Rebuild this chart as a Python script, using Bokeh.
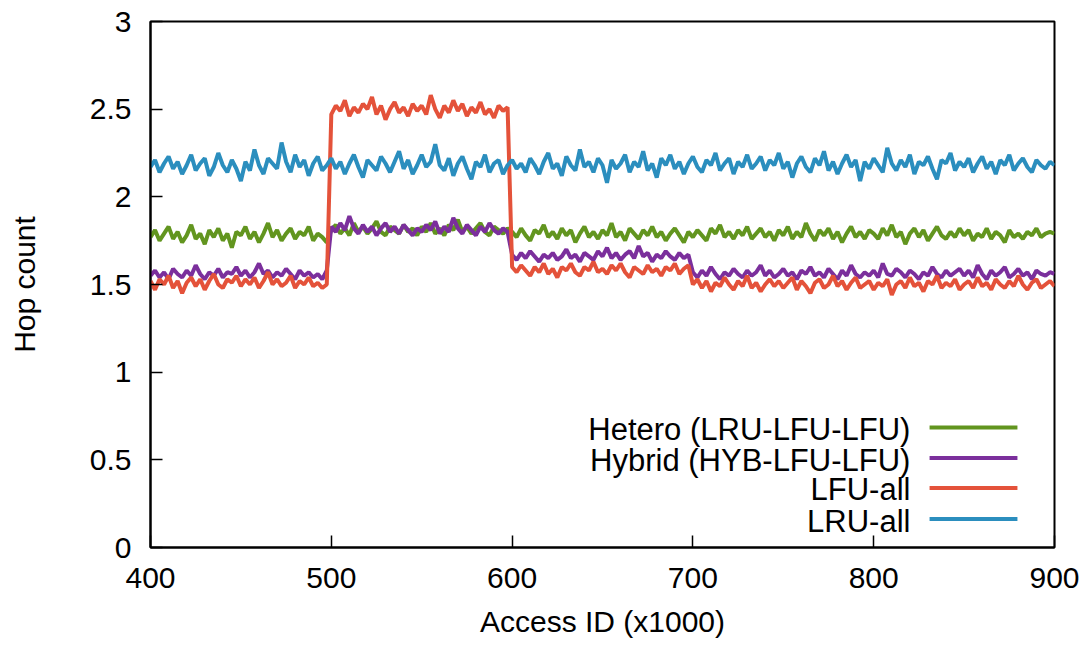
from bokeh.plotting import figure
from bokeh.models import Range1d, FixedTicker
from bokeh.core.properties import value
from bokeh.embed import file_html
from bokeh.resources import INLINE

# Access ID (x1000): one sample every 2.5
access_id = [400 + 2.5 * i for i in range(201)]

lru_all = [
    2.17, 2.21, 2.14, 2.19, 2.23, 2.16, 2.20, 2.13, 2.18, 2.24, 2.15, 2.19, 2.22, 2.12, 2.17, 2.25, 2.18, 2.14, 2.21, 2.16,
    2.09, 2.20, 2.15, 2.27, 2.18, 2.13, 2.22, 2.19, 2.16, 2.31, 2.20, 2.14, 2.24, 2.17, 2.21, 2.12, 2.19, 2.23, 2.15, 2.18,
    2.22, 2.16, 2.20, 2.13, 2.19, 2.24, 2.17, 2.11, 2.21, 2.18, 2.15, 2.23, 2.19, 2.14, 2.20, 2.26, 2.16, 2.21, 2.13, 2.18,
    2.24, 2.17, 2.20, 2.30, 2.18, 2.15, 2.22, 2.12, 2.19, 2.23, 2.16, 2.10, 2.20, 2.17, 2.24, 2.14, 2.19, 2.21, 2.13, 2.18,
    2.21, 2.16, 2.19, 2.14, 2.22, 2.18, 2.13, 2.20, 2.25, 2.16, 2.19, 2.12, 2.23, 2.18, 2.15, 2.27, 2.17, 2.20, 2.14, 2.22,
    2.18, 2.08, 2.21, 2.16, 2.19, 2.24, 2.14, 2.20, 2.17, 2.26, 2.15, 2.19, 2.11, 2.22, 2.18, 2.24, 2.16, 2.20, 2.13, 2.19,
    2.23, 2.17, 2.14, 2.21, 2.18, 2.25, 2.15, 2.19, 2.22, 2.13, 2.20, 2.17, 2.24, 2.16, 2.19, 2.23, 2.15, 2.21, 2.18, 2.25,
    2.16, 2.20, 2.11, 2.19, 2.23, 2.17, 2.14, 2.22, 2.18, 2.26, 2.15, 2.20, 2.13, 2.19, 2.24, 2.17, 2.21, 2.09, 2.20, 2.16,
    2.22, 2.18, 2.14, 2.28, 2.19, 2.15, 2.21, 2.17, 2.24, 2.13, 2.20, 2.18, 2.23, 2.16, 2.10, 2.21, 2.19, 2.25, 2.15, 2.20,
    2.17, 2.22, 2.14, 2.19, 2.23, 2.16, 2.20, 2.13, 2.21, 2.18, 2.24, 2.15, 2.19, 2.22, 2.17, 2.14, 2.21, 2.18, 2.16, 2.20,
    2.18,
]

hetero = [
    1.77, 1.81, 1.75, 1.79, 1.83, 1.76, 1.80, 1.74, 1.78, 1.84, 1.76, 1.79, 1.73, 1.81, 1.77, 1.82, 1.75, 1.79, 1.71, 1.80,
    1.78, 1.83, 1.76, 1.80, 1.74, 1.79, 1.85, 1.77, 1.81, 1.75, 1.79, 1.82, 1.76, 1.80, 1.78, 1.83, 1.75, 1.79, 1.77, 1.74,
    1.81, 1.84, 1.79, 1.82, 1.78, 1.85, 1.80, 1.83, 1.79, 1.82, 1.86, 1.80, 1.78, 1.83, 1.81, 1.79, 1.84, 1.80, 1.82, 1.78,
    1.83, 1.80, 1.85, 1.79, 1.82, 1.78, 1.84, 1.81, 1.87, 1.80, 1.83, 1.79, 1.82, 1.85, 1.80, 1.78, 1.83, 1.81, 1.79, 1.82,
    1.80, 1.77, 1.82, 1.78, 1.75, 1.81, 1.79, 1.84, 1.77, 1.80, 1.76, 1.82, 1.78, 1.81, 1.74, 1.79, 1.83, 1.77, 1.80, 1.76,
    1.81, 1.78, 1.85, 1.77, 1.80, 1.75, 1.82, 1.79, 1.76, 1.81, 1.78, 1.83, 1.77, 1.80, 1.75, 1.79, 1.82, 1.78, 1.74, 1.80,
    1.77, 1.81, 1.78, 1.75, 1.82, 1.79, 1.84, 1.77, 1.80, 1.76, 1.81, 1.78, 1.83, 1.76, 1.79, 1.82, 1.77, 1.80, 1.75, 1.81,
    1.78, 1.83, 1.76, 1.80, 1.77, 1.85, 1.79, 1.75, 1.81, 1.78, 1.82, 1.76, 1.80, 1.74, 1.79, 1.83, 1.77, 1.80, 1.76, 1.81,
    1.79, 1.76, 1.82, 1.78, 1.84, 1.77, 1.80, 1.73, 1.79, 1.82, 1.77, 1.81, 1.75, 1.79, 1.83, 1.78, 1.76, 1.80, 1.77, 1.82,
    1.78, 1.81, 1.75, 1.79, 1.77, 1.82, 1.76, 1.80, 1.78, 1.74, 1.81, 1.77, 1.79, 1.76, 1.80, 1.78, 1.82, 1.77, 1.79, 1.80,
    1.79,
]

hybrid = [
    1.55, 1.58, 1.54, 1.57, 1.53, 1.59, 1.56, 1.54, 1.58, 1.55, 1.61, 1.56, 1.53, 1.57, 1.55, 1.59, 1.54, 1.57, 1.56, 1.60,
    1.55, 1.58, 1.54, 1.57, 1.62, 1.56, 1.58, 1.54, 1.57, 1.55, 1.59, 1.56, 1.53, 1.58, 1.55, 1.57, 1.54, 1.56, 1.53, 1.58,
    1.83, 1.80, 1.85, 1.81, 1.89, 1.82, 1.79, 1.84, 1.80, 1.83, 1.78, 1.82, 1.85, 1.80, 1.83, 1.79, 1.84, 1.81, 1.78, 1.82,
    1.80, 1.84, 1.81, 1.86, 1.79, 1.83, 1.80, 1.88, 1.82, 1.79, 1.84, 1.81, 1.78, 1.83, 1.80, 1.85, 1.81, 1.79, 1.82, 1.80,
    1.67, 1.64, 1.68, 1.65, 1.69, 1.66, 1.63, 1.67, 1.65, 1.68, 1.64, 1.66, 1.70, 1.65, 1.67, 1.63, 1.68, 1.66, 1.64, 1.69,
    1.66, 1.71, 1.65, 1.68, 1.64, 1.67, 1.69, 1.65, 1.72, 1.66, 1.68, 1.63, 1.67, 1.65, 1.69, 1.66, 1.64, 1.68, 1.65, 1.67,
    1.57, 1.54, 1.58, 1.55, 1.60, 1.56, 1.53, 1.57, 1.55, 1.59, 1.56, 1.54, 1.58, 1.55, 1.57, 1.61, 1.55, 1.58, 1.54, 1.56,
    1.59, 1.55, 1.57, 1.53, 1.58, 1.56, 1.60, 1.55, 1.57, 1.54, 1.59, 1.56, 1.53, 1.58, 1.55, 1.61, 1.56, 1.54, 1.57, 1.55,
    1.58, 1.54, 1.62, 1.56, 1.55, 1.59, 1.57, 1.54, 1.58, 1.56, 1.53, 1.57, 1.55, 1.60, 1.56, 1.54, 1.58, 1.55, 1.57, 1.59,
    1.55, 1.58, 1.54, 1.61, 1.56, 1.53, 1.58, 1.55, 1.57, 1.60, 1.54, 1.56, 1.59, 1.55, 1.57, 1.53, 1.58, 1.56, 1.55, 1.57,
    1.56,
]

lfu_all = [
    1.52, 1.47, 1.53, 1.50, 1.55, 1.48, 1.52, 1.45, 1.51, 1.54, 1.49, 1.53, 1.47, 1.52, 1.56, 1.50, 1.48, 1.53, 1.51, 1.55,
    1.49, 1.53, 1.50, 1.54, 1.48, 1.52, 1.57, 1.50, 1.53, 1.49, 1.51, 1.55, 1.48, 1.52, 1.50, 1.54, 1.49, 1.51, 1.48, 1.50,
    2.47, 2.52, 2.49, 2.55, 2.46, 2.51, 2.48, 2.53, 2.50, 2.57, 2.47, 2.52, 2.44, 2.50, 2.54, 2.48, 2.51, 2.46, 2.53, 2.49,
    2.52, 2.47, 2.58, 2.50, 2.45, 2.52, 2.48, 2.55, 2.49, 2.53, 2.46, 2.51, 2.48, 2.54, 2.47, 2.50, 2.45, 2.52, 2.49, 2.51,
    1.60, 1.57, 1.61, 1.58, 1.55, 1.60, 1.57, 1.62, 1.56, 1.59, 1.54, 1.60, 1.58, 1.62, 1.57, 1.55, 1.60, 1.58, 1.63, 1.57,
    1.59, 1.56, 1.61, 1.58, 1.62, 1.57, 1.54, 1.60, 1.58, 1.56, 1.61, 1.57, 1.59, 1.55, 1.60, 1.58, 1.62, 1.56, 1.59, 1.61,
    1.50, 1.53, 1.48, 1.52, 1.46, 1.51, 1.49, 1.54, 1.50, 1.47, 1.52, 1.49, 1.55, 1.48, 1.51, 1.46, 1.50, 1.53, 1.49, 1.52,
    1.48, 1.51, 1.54, 1.47, 1.52, 1.49, 1.45, 1.51, 1.53, 1.48, 1.50, 1.55, 1.49, 1.52, 1.47, 1.51, 1.54, 1.48, 1.50, 1.52,
    1.47, 1.51, 1.49, 1.53, 1.44, 1.50, 1.52, 1.48, 1.54, 1.49, 1.51, 1.46, 1.52, 1.50, 1.55, 1.48, 1.51, 1.49, 1.53, 1.47,
    1.50, 1.52, 1.48, 1.54, 1.49, 1.51, 1.47, 1.53, 1.50, 1.48, 1.52, 1.49, 1.55, 1.50, 1.47, 1.51, 1.53, 1.48, 1.50, 1.52,
    1.49,
]

series_names = ["Hetero (LRU-LFU-LFU)", "Hybrid (HYB-LFU-LFU)", "LFU-all", "LRU-all"]
series_values = [hetero, hybrid, lfu_all, lru_all]
series_colors = ["#62951f", "#7b2f9c", "#e4523a", "#2b8ebe"]

x_ticks = [400, 500, 600, 700, 800, 900]
y_ticks = [0, 0.5, 1, 1.5, 2, 2.5, 3]
y_tick_labels = ["0", "0.5", "1", "1.5", "2", "2.5", "3"]

FONT = "Liberation Sans"
FS = "30px"

p = figure(width=1088, height=640, output_backend="svg", toolbar_location=None,
           x_range=Range1d(400, 900), y_range=Range1d(0, 3),
           min_border_left=150, min_border_right=34, min_border_top=21, min_border_bottom=89)
p.background_fill_color = "white"
p.border_fill_color = "white"
p.grid.visible = False
p.outline_line_color = "black"
p.outline_line_width = 2
p.outline_line_alpha = 1

for vals, col in zip(series_values, series_colors):
    p.line(access_id, vals, line_color=col, line_width=4)

# legend (label on the left, line sample on the right)
leg_x_text = 820.3
leg_x0, leg_x1 = 830.9, 879.5
leg_y = [0.685, 0.511, 0.340, 0.162]
leg_text_y = [v - 0.012 for v in leg_y]
p.text(x=[leg_x_text] * 4, y=leg_text_y, text=series_names, text_font=value(FONT),
       text_font_size="31px", text_align="right", text_baseline="middle", text_color="black")
p.segment(x0=[leg_x0] * 4, x1=[leg_x1] * 4, y0=leg_y, y1=leg_y,
          line_color=series_colors, line_width=4)

for ax in (p.xaxis[0], p.yaxis[0]):
    ax.axis_line_width = 2
    ax.axis_line_color = "black"
    ax.major_tick_in = 12
    ax.major_tick_out = 0
    ax.major_tick_line_width = 1.5
    ax.major_tick_line_color = "black"
    ax.minor_tick_line_color = None
    ax.major_label_text_font = FONT
    ax.major_label_text_font_size = FS
    ax.major_label_text_color = "black"
    ax.axis_label_text_font = FONT
    ax.axis_label_text_font_size = FS
    ax.axis_label_text_font_style = "normal"
    ax.axis_label_text_color = "black"

p.xaxis.ticker = FixedTicker(ticks=x_ticks)
p.yaxis.ticker = FixedTicker(ticks=y_ticks)
p.yaxis.major_label_overrides = {t: l for t, l in zip(y_ticks, y_tick_labels)}
p.xaxis.axis_label = "Access ID (x1000)"
p.yaxis.axis_label = "Hop count"
p.xaxis.major_label_standoff = 20
p.yaxis.major_label_standoff = 19
p.xaxis.axis_label_standoff = 14
p.yaxis.axis_label_standoff = 46

open("out.html", "w").write(file_html(p, INLINE))
